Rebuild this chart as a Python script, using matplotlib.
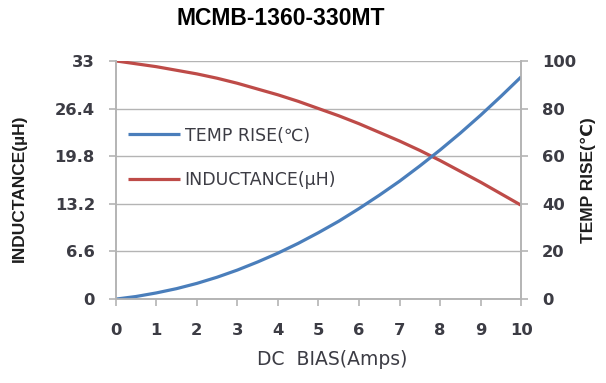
import matplotlib
matplotlib.use("Agg")
import matplotlib.pyplot as plt

# values (every half amp)
dc_bias = [0, 0.5, 1, 1.5, 2, 2.5, 3, 3.5, 4, 4.5, 5,
           5.5, 6, 6.5, 7, 7.5, 8, 8.5, 9, 9.5, 10]
inductance = [33.0, 32.6, 32.2, 31.7, 31.2, 30.6, 29.9, 29.1, 28.3, 27.4, 26.4,
              25.4, 24.3, 23.1, 21.9, 20.6, 19.2, 17.7, 16.2, 14.6, 13.0]
temp_rise = [0.0, 1.1, 2.6, 4.4, 6.6, 9.2, 12.2, 15.6, 19.3, 23.4, 27.9,
             32.7, 38.0, 43.6, 49.5, 55.9, 62.6, 69.7, 77.2, 85.1, 93.3]

x_ticks = [0, 1, 2, 3, 4, 5, 6, 7, 8, 9, 10]
left_ticks = [0, 6.6, 13.2, 19.8, 26.4, 33]
left_labels = ["0", "6.6", "13.2", "19.8", "26.4", "33"]
right_ticks = [0, 20, 40, 60, 80, 100]

blue = "#4a7ebb"
red = "#be4b48"
grid_gray = "#b4b4b4"
text_gray = "#3c3c44"

fig = plt.figure(figsize=(6.06, 3.83), dpi=100)
ax = fig.add_axes([0.191, 0.219, 0.669, 0.622])
ax2 = ax.twinx()

l_ind, = ax.plot(dc_bias, inductance, color=red, lw=2.3, solid_capstyle="butt")
l_tmp, = ax2.plot(dc_bias, temp_rise, color=blue, lw=2.3, solid_capstyle="butt")

ax.set_xlim(0, 10)
ax.set_ylim(0, 33)
ax2.set_ylim(0, 100)
ax.set_xticks(x_ticks)
ax.set_yticks(left_ticks)
ax.set_yticklabels(left_labels)
ax2.set_yticks(right_ticks)

ax.grid(axis="y", color=grid_gray, lw=1.0)
ax.set_axisbelow(True)

for a in (ax, ax2):
    for s in a.spines.values():
        s.set_color(grid_gray)
        s.set_linewidth(1.2)
    a.spines["top"].set_visible(False)
    a.tick_params(colors=grid_gray, width=1.2, length=5, labelcolor=text_gray,
                  labelsize=11.8)

ax.tick_params(axis="x", pad=12)
ax.tick_params(axis="y", pad=10)
ax2.tick_params(axis="y", pad=10)
for lab in ax.get_xticklabels() + ax.get_yticklabels() + ax2.get_yticklabels():
    lab.set_family("DejaVu Sans")
    lab.set_fontweight("bold")

ax.set_xlabel("DC  BIAS(Amps)", fontsize=13.5, color=text_gray,
              family="DejaVu Sans")
ax.xaxis.set_label_coords(0.533, -0.215)
ax.set_ylabel("INDUCTANCE(µH)", fontsize=12.5, color="#1e1e1e", fontweight="bold",
              family=["Liberation Sans", "DejaVu Sans"])
ax.yaxis.set_label_coords(-0.22, 0.466)
ax2.set_ylabel("TEMP RISE(℃)", fontsize=12.5, color="#1e1e1e", fontweight="bold",
               family=["Liberation Sans", "DejaVu Sans"])
ax2.yaxis.set_label_coords(1.146, 0.50)

fig.text(0.464, 0.952, "MCMB-1360-330MT", ha="center", va="center",
         fontsize=16.5, fontweight="bold", family="Liberation Sans")

leg = ax.legend([l_tmp, l_ind], ["TEMP RISE(℃)", "INDUCTANCE(µH)"],
                loc="upper left", bbox_to_anchor=(-0.008, 0.79), frameon=False,
                handlelength=3.0, handletextpad=0.25, labelspacing=1.55,
                prop={"family": "DejaVu Sans", "size": 12.5})
for t in leg.get_texts():
    t.set_color(text_gray)

fig.savefig("out.png", dpi=100)
